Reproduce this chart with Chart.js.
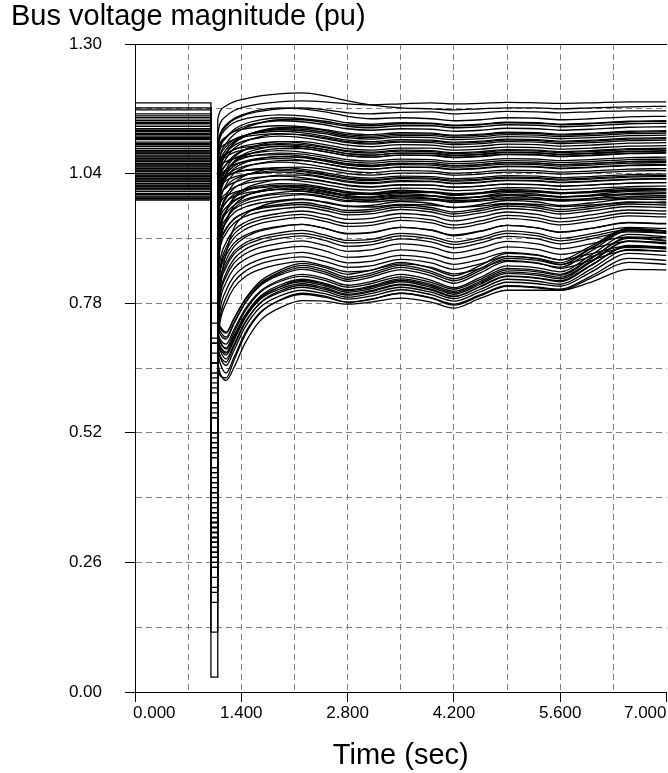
<!DOCTYPE html>
<html>
<head>
<meta charset="utf-8">
<script src="https://cdn.jsdelivr.net/npm/chart.js@4.4.1/dist/chart.umd.min.js"></script>
<style>
  body { margin: 0; background: #fff; }
</style>
</head>
<body>
<canvas id="myChart" width="668" height="773"></canvas>
<script>
// tick labels
const xTickValues = [0, 1.4, 2.8, 4.2, 5.6, 7.0]
const xTickLabels = ['0.000', '1.400', '2.800', '4.200', '5.600', '7.000']
const yTickLabels = ['0.00', '0.26', '0.52', '0.78', '1.04', '1.30']

// time instants (sec)
const preTimes = [0, 1.0]
const faultTimes = [1.0, 1.08]
const postTimes = [1.09, 1.12, 1.2, 1.3, 1.45, 1.65, 1.9, 2.2, 2.5, 2.8, 3.1, 3.5, 3.9, 4.2, 4.55, 4.9, 5.3, 5.6, 6.0, 6.5, 7.0]

// buses that recover fast (upper band)
const upperPre = [1.182, 1.172, 1.168, 1.160, 1.152, 1.147, 1.140, 1.135, 1.130, 1.124,
  1.118, 1.112, 1.108, 1.103, 1.098, 1.094, 1.090, 1.086, 1.081, 1.077,
  1.073, 1.069, 1.065, 1.061, 1.057, 1.053, 1.049, 1.045, 1.041, 1.037,
  1.033, 1.029, 1.025, 1.021, 1.017, 1.013, 1.009, 1.004, 0.998, 0.990,
  1.156, 1.143, 1.127, 1.115, 1.100, 1.083, 1.059, 1.035]
const upperFault = [0.62, 0.55, 0.48, 0.70, 0.40, 0.33, 0.58, 0.29, 0.66, 0.45,
  0.36, 0.74, 0.52, 0.27, 0.61, 0.39, 0.70, 0.31, 0.56, 0.44,
  0.78, 0.35, 0.64, 0.28, 0.50, 0.66, 0.23, 0.47, 0.71, 0.37,
  0.58, 0.18, 0.52, 0.42, 0.12, 0.63, 0.34, 0.55, 0.21, 0.03,
  0.60, 0.32, 0.49, 0.25, 0.68, 0.41, 0.57, 0.20]
const upperPost = [
  [1.150,1.165,1.176,1.184,1.190,1.196,1.200,1.202,1.196,1.186,1.178,1.172,1.170,1.168,1.170,1.172,1.172,1.170,1.172,1.174,1.175],
  [1.120,1.140,1.155,1.166,1.174,1.180,1.184,1.186,1.184,1.180,1.178,1.180,1.182,1.180,1.181,1.183,1.182,1.181,1.182,1.184,1.184],
  [1.090,1.115,1.135,1.148,1.158,1.165,1.170,1.172,1.168,1.162,1.160,1.163,1.164,1.160,1.162,1.165,1.164,1.162,1.164,1.166,1.166],
  [1.100,1.120,1.138,1.150,1.160,1.168,1.172,1.170,1.164,1.155,1.150,1.152,1.150,1.146,1.148,1.152,1.151,1.148,1.150,1.154,1.155],
  [1.060,1.090,1.112,1.128,1.140,1.148,1.152,1.150,1.145,1.138,1.136,1.140,1.140,1.136,1.138,1.142,1.141,1.138,1.140,1.144,1.145],
  [1.040,1.075,1.100,1.118,1.132,1.142,1.148,1.148,1.142,1.135,1.132,1.136,1.136,1.132,1.134,1.138,1.137,1.134,1.136,1.140,1.141],
  [1.070,1.095,1.112,1.125,1.135,1.142,1.146,1.144,1.138,1.130,1.127,1.130,1.129,1.125,1.127,1.131,1.130,1.127,1.129,1.133,1.134],
  [1.010,1.050,1.080,1.100,1.115,1.126,1.132,1.132,1.126,1.118,1.115,1.119,1.119,1.115,1.117,1.121,1.120,1.117,1.119,1.123,1.124],
  [1.080,1.100,1.114,1.124,1.130,1.134,1.136,1.134,1.128,1.121,1.118,1.122,1.121,1.117,1.119,1.123,1.122,1.119,1.121,1.125,1.126],
  [1.030,1.062,1.088,1.104,1.116,1.124,1.128,1.126,1.120,1.112,1.109,1.113,1.112,1.108,1.110,1.114,1.113,1.110,1.112,1.116,1.117],
  [1.000,1.040,1.070,1.090,1.104,1.114,1.119,1.118,1.112,1.104,1.101,1.105,1.105,1.101,1.103,1.107,1.106,1.103,1.105,1.109,1.110],
  [1.075,1.090,1.100,1.108,1.114,1.118,1.120,1.117,1.110,1.102,1.099,1.103,1.102,1.098,1.100,1.104,1.103,1.100,1.102,1.106,1.107],
  [1.030,1.060,1.082,1.096,1.106,1.112,1.115,1.112,1.105,1.097,1.094,1.098,1.097,1.093,1.095,1.099,1.098,1.095,1.097,1.101,1.102],
  [0.960,1.010,1.048,1.072,1.088,1.098,1.104,1.104,1.098,1.090,1.087,1.091,1.091,1.087,1.089,1.093,1.092,1.089,1.091,1.095,1.096],
  [1.040,1.062,1.078,1.088,1.096,1.101,1.104,1.101,1.094,1.086,1.083,1.087,1.086,1.082,1.084,1.088,1.087,1.084,1.086,1.090,1.091],
  [0.990,1.030,1.058,1.076,1.088,1.096,1.100,1.098,1.092,1.084,1.081,1.085,1.084,1.080,1.082,1.086,1.085,1.082,1.084,1.088,1.089],
  [1.045,1.062,1.074,1.082,1.088,1.092,1.094,1.091,1.084,1.076,1.073,1.077,1.076,1.072,1.074,1.078,1.077,1.074,1.076,1.080,1.081],
  [0.960,1.005,1.040,1.062,1.076,1.085,1.090,1.090,1.084,1.076,1.073,1.077,1.077,1.073,1.075,1.079,1.078,1.075,1.077,1.081,1.082],
  [1.010,1.038,1.058,1.070,1.078,1.083,1.086,1.083,1.076,1.068,1.065,1.069,1.068,1.064,1.066,1.070,1.069,1.066,1.068,1.072,1.073],
  [0.980,1.020,1.046,1.062,1.072,1.078,1.081,1.079,1.072,1.064,1.061,1.065,1.064,1.060,1.062,1.066,1.065,1.062,1.064,1.068,1.069],
  [1.045,1.056,1.064,1.070,1.074,1.077,1.078,1.075,1.068,1.060,1.057,1.061,1.060,1.056,1.058,1.062,1.061,1.058,1.060,1.064,1.065],
  [0.950,0.995,1.030,1.050,1.062,1.070,1.074,1.073,1.067,1.059,1.056,1.060,1.060,1.056,1.058,1.062,1.061,1.058,1.060,1.064,1.065],
  [1.010,1.032,1.048,1.058,1.064,1.068,1.070,1.067,1.060,1.052,1.049,1.053,1.052,1.048,1.050,1.054,1.053,1.050,1.052,1.056,1.057],
  [0.930,0.980,1.018,1.040,1.053,1.061,1.066,1.066,1.060,1.052,1.049,1.053,1.053,1.049,1.051,1.055,1.054,1.051,1.053,1.057,1.058],
  [0.980,1.012,1.034,1.047,1.055,1.060,1.063,1.060,1.053,1.045,1.042,1.046,1.045,1.041,1.043,1.047,1.046,1.043,1.045,1.049,1.050],
  [1.000,1.020,1.034,1.042,1.047,1.050,1.052,1.049,1.042,1.034,1.031,1.035,1.034,1.030,1.032,1.036,1.035,1.032,1.034,1.038,1.039],
  [0.900,0.955,0.995,1.020,1.036,1.046,1.052,1.053,1.048,1.040,1.037,1.041,1.041,1.037,1.039,1.043,1.042,1.039,1.041,1.045,1.046],
  [0.960,0.992,1.014,1.028,1.037,1.043,1.046,1.044,1.037,1.029,1.026,1.030,1.029,1.025,1.027,1.031,1.030,1.027,1.029,1.033,1.034],
  [1.000,1.015,1.026,1.033,1.038,1.041,1.043,1.040,1.033,1.025,1.022,1.026,1.025,1.021,1.023,1.027,1.026,1.023,1.025,1.029,1.030],
  [0.920,0.960,0.990,1.010,1.023,1.032,1.037,1.037,1.031,1.023,1.020,1.024,1.024,1.020,1.022,1.026,1.025,1.022,1.024,1.028,1.029],
  [0.970,0.995,1.012,1.022,1.029,1.033,1.035,1.032,1.025,1.017,1.014,1.018,1.017,1.013,1.015,1.019,1.018,1.015,1.017,1.021,1.022],
  [0.860,0.920,0.965,0.992,1.010,1.021,1.028,1.029,1.024,1.016,1.013,1.017,1.017,1.013,1.015,1.019,1.018,1.015,1.017,1.021,1.022],
  [0.950,0.980,1.000,1.012,1.020,1.025,1.028,1.025,1.018,1.010,1.007,1.011,1.010,1.006,1.008,1.012,1.011,1.008,1.010,1.014,1.015],
  [0.920,0.955,0.982,0.998,1.009,1.016,1.020,1.019,1.012,1.004,1.001,1.005,1.004,1.000,1.002,1.006,1.005,1.002,1.004,1.008,1.009],
  [0.830,0.895,0.945,0.975,0.994,1.006,1.013,1.015,1.009,1.001,0.998,1.002,1.002,0.998,1.000,1.004,1.003,1.000,1.002,1.006,1.007],
  [0.960,0.980,0.994,1.002,1.008,1.012,1.014,1.011,1.004,0.996,0.993,0.997,0.996,0.992,0.994,0.998,0.997,0.994,0.996,1.000,1.001],
  [0.900,0.938,0.966,0.984,0.996,1.004,1.009,1.008,1.002,0.994,0.991,0.995,0.995,0.991,0.993,0.997,0.996,0.993,0.995,0.999,1.000],
  [0.940,0.965,0.983,0.994,1.001,1.005,1.008,1.005,0.998,0.990,0.987,0.991,0.990,0.986,0.988,0.992,0.991,0.988,0.990,0.994,0.995],
  [0.850,0.905,0.945,0.970,0.985,0.994,0.999,1.000,0.994,0.986,0.983,0.987,0.987,0.983,0.985,0.989,0.988,0.985,0.987,0.991,0.992],
  [0.700,0.800,0.880,0.930,0.958,0.974,0.984,0.988,0.983,0.975,0.973,0.978,0.977,0.972,0.975,0.980,0.978,0.974,0.977,0.982,0.983],
  [1.090,1.112,1.130,1.142,1.150,1.155,1.158,1.156,1.150,1.142,1.139,1.142,1.141,1.137,1.139,1.143,1.142,1.139,1.141,1.145,1.146],
  [1.000,1.045,1.080,1.102,1.116,1.125,1.130,1.129,1.123,1.115,1.112,1.116,1.116,1.112,1.114,1.118,1.117,1.114,1.116,1.120,1.121],
  [1.040,1.072,1.094,1.108,1.117,1.122,1.125,1.122,1.115,1.107,1.104,1.108,1.107,1.103,1.105,1.109,1.108,1.105,1.107,1.111,1.112],
  [0.950,1.000,1.040,1.064,1.080,1.090,1.095,1.094,1.088,1.080,1.077,1.081,1.081,1.077,1.079,1.083,1.082,1.079,1.081,1.085,1.086],
  [1.050,1.068,1.080,1.088,1.093,1.096,1.098,1.095,1.088,1.080,1.077,1.081,1.080,1.076,1.078,1.082,1.081,1.078,1.080,1.084,1.085],
  [0.970,1.010,1.038,1.055,1.065,1.071,1.074,1.072,1.065,1.057,1.054,1.058,1.057,1.053,1.055,1.059,1.058,1.055,1.057,1.061,1.062],
  [0.990,1.015,1.032,1.041,1.046,1.048,1.049,1.046,1.039,1.031,1.028,1.032,1.031,1.027,1.029,1.033,1.032,1.029,1.031,1.035,1.036],
  [0.870,0.925,0.965,0.990,1.005,1.013,1.017,1.016,1.010,1.002,0.999,1.003,1.003,0.999,1.001,1.005,1.004,1.001,1.003,1.007,1.008]
]

// buses settling between 0.86 and 1.01
const middlePre = [1.120, 1.095, 1.070, 1.055, 1.035, 1.020, 1.010, 0.995, 1.060, 1.045, 1.000, 1.085, 1.015, 1.030,
  1.110, 1.065, 1.040, 1.025, 0.990, 1.080]
const middleFault = [0.42, 0.38, 0.33, 0.30, 0.29, 0.36, 0.27, 0.31, 0.47, 0.40, 0.34, 0.51, 0.44, 0.26,
  0.35, 0.30, 0.43, 0.28, 0.37, 0.45]
const middlePost = [
  [0.880,0.920,0.950,0.968,0.980,0.988,0.994,0.998,0.992,0.984,0.986,0.994,0.990,0.982,0.988,0.996,0.992,0.986,0.990,0.998,0.996],
  [0.850,0.895,0.928,0.948,0.962,0.972,0.978,0.982,0.975,0.966,0.968,0.977,0.972,0.963,0.970,0.979,0.975,0.968,0.974,0.983,0.981],
  [0.820,0.865,0.902,0.926,0.942,0.953,0.960,0.965,0.958,0.948,0.950,0.960,0.955,0.945,0.953,0.963,0.958,0.950,0.957,0.967,0.965],
  [0.800,0.845,0.884,0.910,0.928,0.940,0.947,0.952,0.944,0.934,0.936,0.946,0.941,0.931,0.939,0.950,0.945,0.937,0.944,0.955,0.953],
  [0.780,0.826,0.866,0.893,0.912,0.925,0.933,0.938,0.930,0.919,0.921,0.932,0.926,0.915,0.924,0.936,0.931,0.922,0.930,0.942,0.940],
  [0.780,0.822,0.858,0.883,0.901,0.913,0.921,0.926,0.917,0.906,0.908,0.920,0.914,0.903,0.912,0.925,0.920,0.910,0.919,0.932,0.930],
  [0.750,0.798,0.840,0.868,0.888,0.901,0.910,0.915,0.906,0.894,0.897,0.909,0.903,0.891,0.901,0.914,0.909,0.899,0.909,0.923,0.921],
  [0.750,0.795,0.833,0.860,0.879,0.892,0.900,0.905,0.896,0.884,0.887,0.899,0.893,0.881,0.891,0.904,0.899,0.889,0.899,0.913,0.911],
  [0.900,0.935,0.960,0.976,0.988,0.996,1.002,1.005,0.999,0.991,0.993,1.000,0.996,0.989,0.994,1.002,0.999,0.993,0.997,1.004,1.003],
  [0.850,0.890,0.920,0.940,0.954,0.963,0.969,0.973,0.966,0.957,0.959,0.968,0.963,0.954,0.961,0.970,0.966,0.959,0.965,0.974,0.972],
  [0.740,0.784,0.822,0.849,0.868,0.881,0.889,0.894,0.885,0.872,0.875,0.887,0.881,0.869,0.879,0.893,0.888,0.878,0.889,0.904,0.902],
  [0.920,0.950,0.972,0.986,0.996,1.004,1.009,1.012,1.006,0.998,1.000,1.007,1.003,0.996,1.001,1.009,1.006,1.000,1.004,1.011,1.010],
  [0.800,0.842,0.876,0.900,0.916,0.927,0.934,0.938,0.930,0.920,0.922,0.932,0.927,0.917,0.925,0.936,0.931,0.923,0.930,0.941,0.939],
  [0.720,0.766,0.806,0.834,0.854,0.868,0.877,0.882,0.873,0.861,0.864,0.876,0.870,0.858,0.868,0.882,0.877,0.867,0.879,0.895,0.893],
  [0.800,0.850,0.892,0.918,0.936,0.947,0.954,0.958,0.950,0.940,0.942,0.952,0.947,0.937,0.945,0.956,0.951,0.943,0.950,0.961,0.959],
  [0.700,0.742,0.780,0.810,0.833,0.848,0.858,0.864,0.855,0.843,0.846,0.859,0.852,0.839,0.850,0.866,0.861,0.850,0.866,0.886,0.884],
  [0.860,0.900,0.930,0.949,0.962,0.970,0.975,0.978,0.971,0.962,0.964,0.973,0.968,0.959,0.966,0.975,0.971,0.964,0.970,0.979,0.977],
  [0.710,0.752,0.792,0.822,0.844,0.859,0.868,0.873,0.864,0.852,0.855,0.868,0.861,0.848,0.859,0.874,0.869,0.858,0.873,0.892,0.890],
  [0.770,0.815,0.852,0.878,0.896,0.908,0.916,0.920,0.912,0.901,0.903,0.915,0.909,0.898,0.907,0.920,0.915,0.905,0.914,0.927,0.925],
  [0.870,0.912,0.942,0.961,0.973,0.981,0.986,0.989,0.982,0.974,0.976,0.984,0.980,0.972,0.978,0.986,0.983,0.976,0.981,0.989,0.988]
]

// slow recovering buses (lower band)
const lowerPre = [1.100, 1.075, 1.050, 1.030, 1.015, 1.000, 0.987, 1.065, 1.040, 1.020, 1.005, 1.090, 1.045, 1.025, 1.010, 0.993]
const lowerFault = [0.25, 0.28, 0.30, 0.33, 0.27, 0.36, 0.29, 0.31, 0.34, 0.38, 0.30, 0.26, 0.40, 0.32, 0.28, 0.35]
const lowerPost = [
  [0.660,0.640,0.625,0.650,0.700,0.745,0.770,0.785,0.784,0.778,0.782,0.790,0.782,0.770,0.790,0.806,0.806,0.806,0.822,0.848,0.847],
  [0.680,0.660,0.640,0.670,0.720,0.762,0.785,0.798,0.792,0.782,0.788,0.800,0.791,0.778,0.797,0.815,0.812,0.808,0.834,0.870,0.866],
  [0.690,0.672,0.655,0.684,0.732,0.772,0.794,0.806,0.799,0.788,0.794,0.807,0.797,0.784,0.803,0.822,0.819,0.814,0.842,0.880,0.876],
  [0.700,0.685,0.668,0.696,0.742,0.780,0.801,0.812,0.804,0.792,0.799,0.812,0.802,0.789,0.808,0.828,0.824,0.818,0.848,0.888,0.884],
  [0.690,0.675,0.662,0.692,0.740,0.781,0.804,0.816,0.808,0.796,0.803,0.817,0.806,0.793,0.813,0.834,0.830,0.823,0.855,0.896,0.891],
  [0.720,0.704,0.688,0.714,0.756,0.792,0.812,0.823,0.815,0.802,0.809,0.823,0.812,0.798,0.818,0.840,0.836,0.829,0.862,0.904,0.899],
  [0.710,0.695,0.682,0.710,0.755,0.794,0.816,0.828,0.820,0.807,0.814,0.829,0.818,0.804,0.824,0.847,0.843,0.836,0.869,0.912,0.906],
  [0.700,0.690,0.680,0.708,0.752,0.790,0.812,0.826,0.818,0.805,0.812,0.826,0.815,0.801,0.821,0.843,0.839,0.832,0.864,0.905,0.900],
  [0.720,0.708,0.698,0.726,0.768,0.804,0.826,0.838,0.830,0.816,0.823,0.838,0.826,0.811,0.832,0.855,0.851,0.843,0.876,0.918,0.913],
  [0.735,0.724,0.712,0.740,0.780,0.815,0.836,0.848,0.839,0.824,0.832,0.847,0.835,0.820,0.841,0.864,0.860,0.852,0.884,0.925,0.920],
  [0.730,0.718,0.708,0.738,0.780,0.817,0.839,0.852,0.843,0.828,0.836,0.852,0.840,0.825,0.846,0.870,0.866,0.857,0.889,0.929,0.924],
  [0.650,0.635,0.630,0.664,0.716,0.760,0.786,0.800,0.794,0.782,0.787,0.800,0.790,0.776,0.795,0.814,0.811,0.806,0.830,0.862,0.858],
  [0.745,0.734,0.722,0.748,0.786,0.820,0.842,0.856,0.847,0.832,0.840,0.856,0.844,0.829,0.850,0.874,0.870,0.861,0.890,0.926,0.921],
  [0.715,0.702,0.690,0.720,0.764,0.802,0.823,0.834,0.826,0.812,0.819,0.833,0.822,0.808,0.828,0.850,0.846,0.838,0.870,0.910,0.905],
  [0.705,0.690,0.676,0.704,0.750,0.788,0.808,0.819,0.811,0.798,0.805,0.818,0.808,0.794,0.814,0.835,0.831,0.825,0.856,0.894,0.889],
  [0.740,0.730,0.720,0.748,0.788,0.824,0.846,0.860,0.852,0.838,0.846,0.862,0.850,0.835,0.856,0.880,0.876,0.867,0.894,0.930,0.925]
]

Chart.defaults.font.family = "'Liberation Sans', Arial, sans-serif"
Chart.defaults.color = '#000'

const datasets = []
function addBus(pre, fault, post) {
  // pre-fault + fault-on part, straight segments
  datasets.push({
    data: [
      {x: preTimes[0], y: pre}, {x: preTimes[1], y: pre},
      {x: faultTimes[0], y: fault}, {x: faultTimes[1], y: fault},
      {x: postTimes[0], y: post[0]}
    ],
    tension: 0
  })
  // post-fault part, smooth
  datasets.push({
    data: post.map((v, i) => ({x: postTimes[i], y: v})),
    cubicInterpolationMode: 'monotone'
  })
}
upperPre.forEach((p, i) => addBus(p, upperFault[i], upperPost[i]))
middlePre.forEach((p, i) => addBus(p, middleFault[i], middlePost[i]))
lowerPre.forEach((p, i) => addBus(p, lowerFault[i], lowerPost[i]))

datasets.forEach(d => {
  d.borderColor = '#000'
  d.borderWidth = 1.3
  d.pointRadius = 0
  d.fill = false
})

// x tick labels: first one starts at the axis, last one ends at the edge
const xLabels = {
  id: 'xLabels',
  afterDraw(chart) {
    const ctx = chart.ctx
    const xs = chart.scales.x
    ctx.save()
    ctx.font = "17px 'Liberation Sans', Arial, sans-serif"
    ctx.fillStyle = '#000'
    ctx.textBaseline = 'middle'
    xTickValues.forEach((v, i) => {
      const px = xs.getPixelForValue(v)
      ctx.textAlign = i === 0 ? 'left' : (i === xTickValues.length - 1 ? 'right' : 'center')
      ctx.fillText(xTickLabels[i], i === 0 ? px - 2 : px, 713)
    })
    ctx.restore()
  }
}

new Chart(document.getElementById('myChart'), {
  type: 'line',
  data: { datasets: datasets },
  options: {
    responsive: false,
    animation: false,
    events: [],
    parsing: false,
    layout: { padding: { left: 11, right: 1.5, top: 0, bottom: 0 } },
    plugins: {
      legend: { display: false },
      tooltip: { enabled: false },
      title: {
        display: true,
        text: 'Bus voltage magnitude (pu)',
        align: 'start',
        color: '#000',
        font: { size: 29, weight: 'normal' },
        padding: { top: 0, bottom: 9.2 }
      }
    },
    scales: {
      x: {
        type: 'linear',
        min: 0,
        max: 7,
        ticks: { display: false, stepSize: 0.7 },
        grid: {
          color: c => (c.index === 10 ? 'transparent' : '#808080'),
          tickColor: c => (c.index % 2 === 0 ? '#000' : 'transparent'),
          tickLength: 10
        },
        border: { color: '#000', width: 1, dash: [6, 4] },
        title: {
          display: true,
          text: 'Time (sec)',
          color: '#000',
          font: { size: 29 },
          padding: { top: 0, bottom: 0 }
        },
        afterFit(s) { s.height = 81 }
      },
      xTop: {
        type: 'linear',
        position: 'top',
        min: 0,
        max: 7,
        ticks: { display: false },
        grid: { display: false, drawTicks: false },
        border: { display: true, color: '#000', width: 1 },
        afterFit(s) { s.height = 0 }
      },
      y: {
        min: 0,
        max: 1.3,
        ticks: {
          stepSize: 0.13,
          padding: 23,
          color: '#000',
          font: { size: 17 },
          callback: (v, i) => (i % 2 === 0 ? yTickLabels[i / 2] : '')
        },
        grid: {
          color: '#808080',
          tickColor: c => (c.index % 2 === 0 ? '#000' : 'transparent'),
          tickLength: 10
        },
        border: { color: '#000', width: 1, dash: [6, 4] },
        afterFit(s) { s.width = 124 }
      }
    }
  },
  plugins: [xLabels]
})
</script>
</body>
</html>
